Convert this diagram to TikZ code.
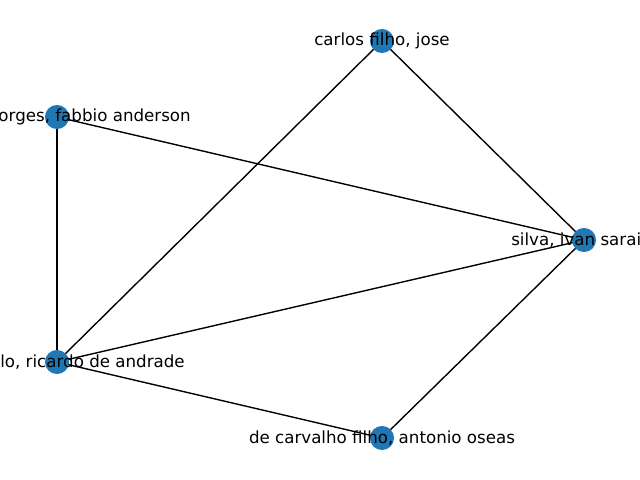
\documentclass[tikz,border=0pt]{standalone}
\usepackage{fontspec}
\setmainfont{DejaVu Sans}
\definecolor{nodeblue}{HTML}{1F77B4}
\tikzset{
  vertex/.style={circle, fill=nodeblue, draw=none, minimum size=17.32bp, inner sep=0pt},
  lbl/.style={inner sep=0pt, font=\fontsize{12bp}{14bp}\selectfont, text=black},
  edge/.style={draw=black, line width=1bp}
}
\begin{document}
\begin{tikzpicture}[x=0.01in, y=-0.01in]
\useasboundingbox (0,0) rectangle (640,480);
\clip (0,0) rectangle (640,480);
\coordinate (carlos) at (382,41);
\coordinate (borges) at (57,117);
\coordinate (silva) at (584,240);
\coordinate (ricardo) at (57,362);
\coordinate (decarv) at (382,438);
\draw[edge] (carlos) -- (ricardo);
\draw[edge] (carlos) -- (silva);
\draw[edge] (borges) -- (silva);
\draw[edge] (borges) -- (ricardo);
\draw[edge] (ricardo) -- (silva);
\draw[edge] (ricardo) -- (decarv);
\draw[edge] (decarv) -- (silva);
\node[vertex] (ncarlos) at (carlos) {};
\node[vertex] (nborges) at (borges) {};
\node[vertex] (nsilva) at (silva) {};
\node[vertex] (nricardo) at (ricardo) {};
\node[vertex] (ndecarv) at (decarv) {};
\node[lbl] (tcarlos) at (382,41) {carlos filho, jose};
\node[lbl, anchor=east] (tborges) at (191,117) {orges, fabbio anderson};
\node[lbl, anchor=west] (tsilva) at (511,240) {silva, ivan sarai};
\node[lbl, anchor=east] (tricardo) at (185,362) {lo, ricardo de andrade};
\node[lbl] (tdecarv) at (382,438) {de carvalho filho, antonio oseas};
\end{tikzpicture}
\end{document}
